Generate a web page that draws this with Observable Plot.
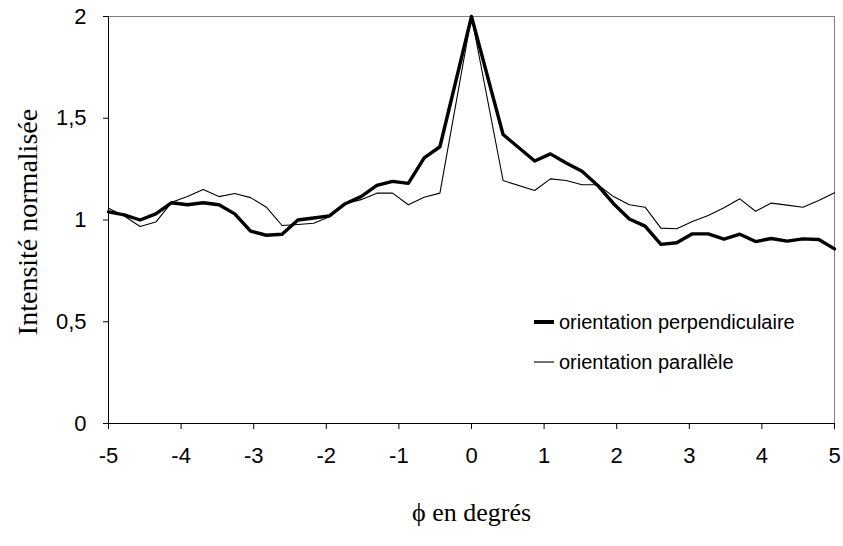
<!DOCTYPE html>
<html>
<head>
<meta charset="utf-8">
<script src="https://cdn.jsdelivr.net/npm/d3@7"></script>
<script src="https://cdn.jsdelivr.net/npm/@observablehq/plot@0.6"></script>
<style>
  body { margin: 0; background: #fff; }
  #wrap { position: relative; width: 843px; height: 546px; }
  #legend { position: absolute; left: 534px; top: 310px; font-family: "Liberation Sans", Arial, sans-serif; font-size: 20px; color: #000; }
  #legend .row { display: flex; align-items: center; height: 24px; margin-bottom: 16px; }
  #legend svg { margin-right: 5px; }
</style>
</head>
<body>
<div id="wrap">
  <div id="chart"></div>
  <div id="legend"></div>
</div>
<script>
// Angle values (degrees)
const phi = [
  -5.000, -4.783, -4.565, -4.348, -4.130, -3.913, -3.696, -3.478, -3.261, -3.043, -2.826,
  -2.609, -2.391, -2.174, -1.957, -1.739, -1.522, -1.304, -1.087, -0.870, -0.652, -0.435,
  0,
  0.435, 0.870, 1.087, 1.304, 1.522, 1.739, 1.957, 2.174, 2.391, 2.609, 2.826,
  3.043, 3.261, 3.478, 3.696, 3.913, 4.130, 4.348, 4.565, 4.783, 5.000
];
// Normalised intensity, perpendicular orientation (thick line)
const perpendiculaire = [
  1.04, 1.025, 1.00, 1.03, 1.085, 1.075, 1.085, 1.075, 1.03, 0.945, 0.925,
  0.93, 1.00, 1.01, 1.02, 1.08, 1.115, 1.17, 1.19, 1.18, 1.305, 1.36,
  2.00,
  1.42, 1.29, 1.325, 1.28, 1.24, 1.17, 1.08, 1.005, 0.97, 0.88, 0.888,
  0.932, 0.932, 0.906, 0.93, 0.894, 0.909, 0.896, 0.907, 0.904, 0.858
];
// Normalised intensity, parallel orientation (thin line)
const parallele = [
  1.058, 1.02, 0.968, 0.99, 1.087, 1.115, 1.15, 1.115, 1.13, 1.11, 1.063,
  0.973, 0.978, 0.984, 1.016, 1.08, 1.10, 1.132, 1.132, 1.075, 1.112, 1.132,
  2.00,
  1.194, 1.145, 1.202, 1.194, 1.173, 1.173, 1.115, 1.075, 1.063, 0.96, 0.957,
  0.993, 1.022, 1.06, 1.104, 1.043, 1.083, 1.073, 1.063, 1.096, 1.134
];
const xTicks = [-5, -4, -3, -2, -1, 0, 1, 2, 3, 4, 5];
const yTicks = [0, 0.5, 1, 1.5, 2];
const seriesNames = ["orientation perpendiculaire", "orientation parallèle"];
const xTitle = "ϕ en degrés";
const yTitle = "Intensité normalisée";

const dataPerp = phi.map((x, i) => ({x, y: perpendiculaire[i]}));
const dataPara = phi.map((x, i) => ({x, y: parallele[i]}));

const serif = "'Liberation Serif', 'Times New Roman', serif";

const chart = Plot.plot({
  width: 843,
  height: 546,
  marginLeft: 108,
  marginRight: 9,
  marginTop: 16,
  marginBottom: 123,
  style: {fontFamily: "'Liberation Sans', Arial, sans-serif", color: "#000", background: "#fff"},
  x: {domain: [-5, 5]},
  y: {domain: [0, 2]},
  marks: [
    Plot.ruleY([2], {stroke: "#808080", strokeWidth: 1}),
    Plot.ruleX([5], {stroke: "#808080", strokeWidth: 1}),
    Plot.ruleX([-5], {stroke: "#000", strokeWidth: 1}),
    Plot.ruleY([0], {stroke: "#000", strokeWidth: 1}),
    Plot.axisX({ticks: xTicks, tickSize: 6, tickPadding: 18, tickFormat: d => String(d), label: null, fontSize: 22}),
    Plot.axisY({ticks: yTicks, tickSize: 5, tickPadding: 17, tickFormat: d => String(d).replace(".", ","), label: null, fontSize: 22}),
    Plot.line(dataPara, {x: "x", y: "y", stroke: "#000", strokeWidth: 1.1}),
    Plot.line(dataPerp, {x: "x", y: "y", stroke: "#000", strokeWidth: 3.4}),
    Plot.text([xTitle], {text: d => d, frameAnchor: "bottom", textAnchor: "middle", lineAnchor: "middle", dy: 89, fontFamily: serif, fontSize: 26}),
    Plot.text([yTitle], {text: d => d, frameAnchor: "left", textAnchor: "middle", lineAnchor: "middle", rotate: -90, dx: -80, dy: 2, fontFamily: serif, fontSize: 28})
  ]
});
document.getElementById("chart").appendChild(chart);

const widths = [4, 1.1];
const legend = document.getElementById("legend");
seriesNames.forEach((name, i) => {
  const row = document.createElement("div");
  row.className = "row";
  row.innerHTML = `<svg width="20" height="10"><line x1="0" x2="20" y1="5" y2="5" stroke="#000" stroke-width="${widths[i]}"/></svg><span>${name}</span>`;
  legend.appendChild(row);
});
</script>
</body>
</html>
